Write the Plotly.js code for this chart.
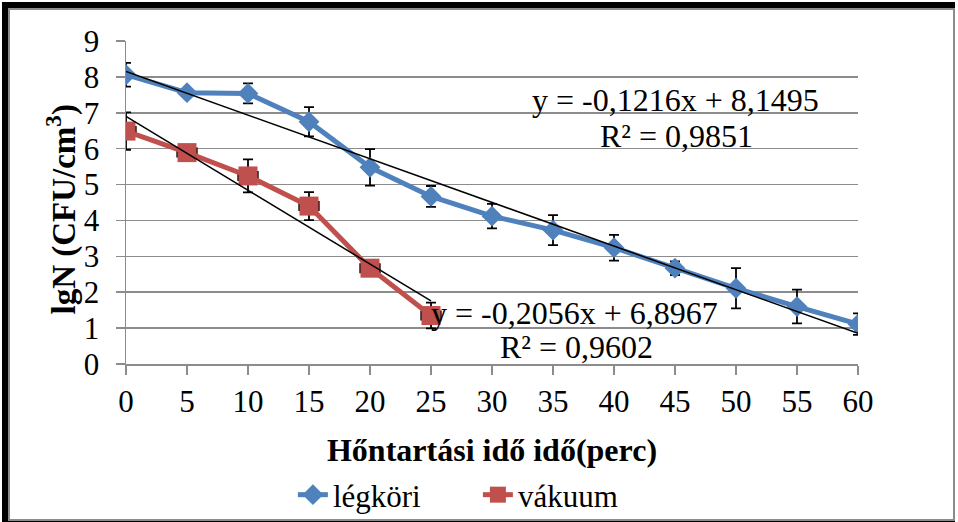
<!DOCTYPE html>
<html>
<head>
<meta charset="utf-8">
<script src="https://cdn.plot.ly/plotly-3.0.1.min.js"></script>
<style>
html,body{margin:0;padding:0;background:#fff;width:958px;height:522px;overflow:hidden;}
#shadow{position:absolute;left:2px;top:2px;width:953px;height:520px;background:#000;}
#frame{position:absolute;left:8px;top:8px;width:947px;height:513px;box-sizing:border-box;border:2px solid #8c8c8c;background:#fff;}
#chart{position:absolute;left:0;top:0;width:958px;height:522px;}
</style>
</head>
<body>
<div id="shadow"></div>
<div id="frame"></div>
<div id="chart"></div>
<script>
// Data
const timeLegkori = [0, 5, 10, 15, 20, 25, 30, 35, 40, 45, 50, 55, 60];
const legkori = [8.06, 7.56, 7.54, 6.75, 5.48, 4.67, 4.12, 3.73, 3.24, 2.67, 2.11, 1.60, 1.11];
const legkoriErr = [0.33, 0.10, 0.28, 0.41, 0.51, 0.29, 0.34, 0.42, 0.36, 0.19, 0.56, 0.47, 0.30];

const timeVakuum = [0, 5, 10, 15, 20, 25];
const vakuum = [6.49, 5.89, 5.24, 4.40, 2.67, 1.35];
const vakuumErr = [0.52, 0.15, 0.46, 0.39, 0.15, 0.36];
const vakuumErrX = [0.8, 0.8, 0.8, 0.8, 0.8, 0.8];

// Trendline coefficients [slope, intercept] and x extent
const trendLegkori = [-0.1216, 8.1495];
const trendLegkoriX = [0, 60];
const trendVakuum = [-0.2056, 6.8967];
const trendVakuumX = [0, 25];

const eqLegkori = "y = -0,1216x + 8,1495";
const r2Legkori = "R² = 0,9851";
const eqVakuum = "y = -0,2056x + 6,8967";
const r2Vakuum = "R² = 0,9602";

const xTicks = [0, 5, 10, 15, 20, 25, 30, 35, 40, 45, 50, 55, 60];
const yTicks = [0, 1, 2, 3, 4, 5, 6, 7, 8, 9];
const xTitle = "Hőntartási idő idő(perc)";
const yTitle = "lgN (CFU/cm<sup>3</sup>)";

const FONT = "Liberation Serif, Times New Roman, serif";
const BLUE = "#4F81BD";
const RED = "#C0504D";
const GRID = "#8c8c8c";

function trendY(c, xs){ return xs.map(x => c[0]*x + c[1]); }

const traces = [
  {
    x: timeLegkori, y: legkori, name: "légköri", type: "scatter", mode: "lines+markers",
    line: {color: BLUE, width: 5},
    marker: {symbol: "diamond", size: 16, color: BLUE},
    error_y: {type: "data", array: legkoriErr, visible: true, color: "#000", thickness: 1.8, width: 5}
  },
  {
    x: timeVakuum, y: vakuum, name: "vákuum", type: "scatter", mode: "lines+markers",
    line: {color: RED, width: 5},
    marker: {symbol: "square", size: 19, color: RED},
    error_y: {type: "data", array: vakuumErr, visible: true, color: "#000", thickness: 1.8, width: 5},
    error_x: {type: "data", array: vakuumErrX, visible: true, color: "#000", thickness: 1.8, width: 5}
  },
  {
    x: trendLegkoriX, y: trendY(trendLegkori, trendLegkoriX), type: "scatter", mode: "lines",
    line: {color: "#000", width: 1.5}, showlegend: false, hoverinfo: "skip"
  },
  {
    x: trendVakuumX, y: trendY(trendVakuum, trendVakuumX), type: "scatter", mode: "lines",
    line: {color: "#000", width: 1.5}, showlegend: false, hoverinfo: "skip"
  }
];

const annFont = {family: FONT, size: 32, color: "#000"};
const layout = {
  width: 958, height: 522,
  paper_bgcolor: "rgba(0,0,0,0)", plot_bgcolor: "rgba(0,0,0,0)",
  margin: {l: 126, r: 100, t: 41, b: 158, pad: 0},
  font: {family: FONT, color: "#000"},
  xaxis: {
    range: [0, 60], tickvals: xTicks, ticktext: xTicks.map(String),
    showgrid: false, zeroline: false, showline: true, linecolor: GRID, linewidth: 1.5,
    ticks: "outside", ticklen: 9, tickcolor: GRID, tickwidth: 1.5,
    tickfont: {family: FONT, size: 31, color: "#000"},
    title: {text: xTitle, font: {family: FONT, size: 32, weight: "bold", color: "#000"}, standoff: 24}
  },
  yaxis: {
    range: [0, 9], tickvals: yTicks, ticktext: yTicks.map(String),
    showgrid: true, gridcolor: GRID, gridwidth: 1.5,
    zeroline: false, showline: true, linecolor: GRID, linewidth: 1.5,
    ticks: "outside", ticklen: 9, tickcolor: GRID, tickwidth: 1.5, ticklabelstandoff: 10,
    tickfont: {family: FONT, size: 31, color: "#000"}
  },
  showlegend: true,
  legend: {
    orientation: "h", x: 0.228, xanchor: "left", xref: "paper",
    y: 0.0517, yanchor: "middle", yref: "container",
    font: {family: FONT, size: 31, color: "#000"},
    bgcolor: "rgba(0,0,0,0)", entrywidth: 140, entrywidthmode: "pixels", traceorder: "normal"
  },
  annotations: [
    {x: -0.088, y: 0.477, xref: "paper", yref: "paper", text: yTitle, textangle: -90,
     xanchor: "center", yanchor: "middle", showarrow: false,
     font: {family: FONT, size: 33, weight: "bold", color: "#000"}},
    {x: 45.0, y: 7.35, xref: "x", yref: "y", text: eqLegkori, showarrow: false, font: annFont},
    {x: 45.1, y: 6.34, xref: "x", yref: "y", text: r2Legkori, showarrow: false, font: annFont},
    {x: 36.8, y: 1.42, xref: "x", yref: "y", text: eqVakuum, showarrow: false, font: annFont},
    {x: 36.9, y: 0.47, xref: "x", yref: "y", text: r2Vakuum, showarrow: false, font: annFont}
  ]
};

Plotly.newPlot("chart", traces, layout, {staticPlot: true, displayModeBar: false});
</script>
</body>
</html>
